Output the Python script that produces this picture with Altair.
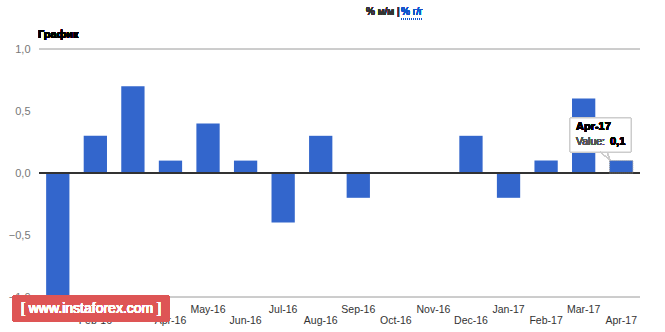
import altair as alt
import pandas as pd

months = ["Jan-16", "Feb-16", "Mar-16", "Apr-16", "May-16", "Jun-16", "Jul-16", "Aug-16",
          "Sep-16", "Oct-16", "Nov-16", "Dec-16", "Jan-17", "Feb-17", "Mar-17", "Apr-17"]
values = [-1.0, 0.3, 0.7, 0.1, 0.4, 0.1, -0.4, 0.3, -0.2, 0.0, 0.0, 0.3, -0.2, 0.1, 0.6, 0.1]
y_ticks = [-1.0, -0.5, 0.0, 0.5, 1.0]
grid_vals = [-1.0, 1.0]

df = pd.DataFrame({"month": months, "value": values, "row": [i % 2 for i in range(len(months))]})
FONT = "Liberation Sans"

xscale = alt.Scale(domain=months, paddingInner=0.38, paddingOuter=0.19)
yscale = alt.Scale(domain=[-1, 1], nice=False)
yaxis = alt.Axis(
    values=y_ticks, labelExpr="replace(format(datum.value, '.1f'), '.', ',')",
    grid=False, domain=False, ticks=False, labelColor="#777777", labelFont=FONT,
    labelFontSize=11, labelPadding=9, title=None)

base = alt.Chart(df)

bars = base.mark_bar(color="#3366cc").encode(
    x=alt.X("month:N", sort=months, scale=xscale, axis=None),
    y=alt.Y("value:Q", scale=yscale, axis=yaxis))

grid_layers = [
    alt.Chart(df).mark_rule(color="#cccccc", strokeWidth=1).encode(
        x=alt.value(0), x2=alt.value(601), y=alt.datum(g))
    for g in grid_vals
]

zero = alt.Chart(df).mark_rule(color="#333333", strokeWidth=1.5).encode(y=alt.datum(0))

highlight = base.transform_filter(alt.datum.month == months[-1]).mark_bar(
    fill="none", stroke="#999999", strokeWidth=1, strokeDash=[1, 1]).encode(
    x=alt.X("month:N", sort=months, scale=xscale, axis=None),
    y=alt.Y("value:Q", scale=yscale, axis=yaxis))

lab_top = base.transform_filter(alt.datum.row == 0).mark_text(
    font=FONT, fontSize=10.5, color="#333333", baseline="middle").encode(
    x=alt.X("month:N", sort=months, scale=xscale, axis=None, bandPosition=0.5),
    y=alt.value(261), text="month:N")
lab_bot = base.transform_filter(alt.datum.row == 1).mark_text(
    font=FONT, fontSize=10.5, color="#333333", baseline="middle").encode(
    x=alt.X("month:N", sort=months, scale=xscale, axis=None, bandPosition=0.5),
    y=alt.value(272), text="month:N")

wm_rect = alt.Chart(df).mark_rect(color="#dd5555", opacity=0.8, cornerRadius=3).encode(
    x=alt.value(-27), x2=alt.value(131), y=alt.value(246), y2=alt.value(273))
wm_text = alt.Chart(df).mark_text(font=FONT, fontSize=14, color="white", align="center",
                                  baseline="middle").encode(
    x=alt.value(52), y=alt.value(260), text=alt.value("[ www.instaforex.com ]"))

tip_rect = alt.Chart(df).mark_rect(fill="white", stroke="#cccccc", strokeWidth=1).encode(
    x=alt.value(531), x2=alt.value(592), y=alt.value(69), y2=alt.value(103))
tip_ptr1 = alt.Chart(df).mark_rule(color="#cccccc").encode(
    x=alt.value(561), x2=alt.value(571), y=alt.value(103), y2=alt.value(111))
tip_ptr2 = alt.Chart(df).mark_rule(color="#cccccc").encode(
    x=alt.value(568), x2=alt.value(571), y=alt.value(103), y2=alt.value(111))
tip_t1 = alt.Chart(df).mark_text(font=FONT, fontSize=11, fontWeight="bold", color="#000000",
                                 align="left", baseline="middle").encode(
    x=alt.value(537), y=alt.value(78), text=alt.value(months[-1]))
tip_t2 = alt.Chart(df).mark_text(font=FONT, fontSize=10.5, color="#555555", align="left",
                                 baseline="middle").encode(
    x=alt.value(537), y=alt.value(93), text=alt.value("Value:"))
tip_t3 = alt.Chart(df).mark_text(font=FONT, fontSize=11, fontWeight="bold", color="#000000",
                                 align="left", baseline="middle").encode(
    x=alt.value(571), y=alt.value(93), text=alt.value(str(values[-1]).replace(".", ",")))

title = alt.Chart(df).mark_text(font=FONT, fontSize=11, fontWeight="bold", color="#000000",
                                align="left", baseline="middle").encode(
    x=alt.value(-1), y=alt.value(-14), text=alt.value("График"))
sw1 = alt.Chart(df).mark_text(font=FONT, fontSize=10, color="#333333", align="left",
                              baseline="middle").encode(
    x=alt.value(327), y=alt.value(-37), text=alt.value("% м/м |"))
sw2 = alt.Chart(df).mark_text(font=FONT, fontSize=10, color="#1155cc", align="left",
                              baseline="middle").encode(
    x=alt.value(362), y=alt.value(-37), text=alt.value("% г/г"))
sw_line = alt.Chart(df).mark_rule(color="#1155cc", strokeDash=[1, 1]).encode(
    x=alt.value(362), x2=alt.value(384), y=alt.value(-30))

chart = alt.layer(
    bars, *grid_layers, zero, highlight, lab_top, lab_bot, wm_rect, wm_text,
    tip_rect, tip_ptr1, tip_ptr2, tip_t1, tip_t2, tip_t3, title, sw1, sw2, sw_line
).properties(
    width=601, height=248,
    background="white",
    autosize=alt.AutoSizeParams(type="none"),
    padding={"left": 39, "top": 49, "right": 25, "bottom": 35},
).configure_view(stroke=None)

chart.save("out.html", embed_options={"renderer": "svg", "actions": False})
